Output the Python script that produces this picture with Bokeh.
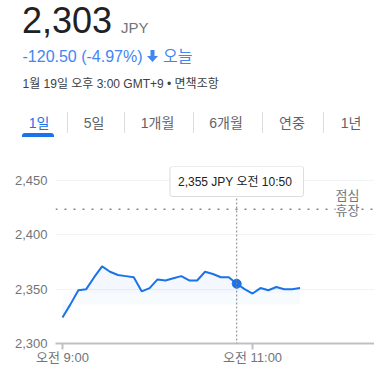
from bokeh.plotting import figure
from bokeh.models import (Div, Label, Span, FixedTicker, NumeralTickFormatter, Range1d)
from bokeh.layouts import column
from bokeh.embed import file_html
from bokeh.resources import INLINE

# ---------------- data ----------------
times = ["09:00", "09:05", "09:10", "09:15", "09:20", "09:25", "09:30", "09:35",
         "09:40", "09:45", "09:50", "09:55", "10:00", "10:05", "10:10", "10:15",
         "10:20", "10:25", "10:30", "10:35", "10:40", "10:45", "10:50", "10:55",
         "11:00", "11:05", "11:10", "11:15", "11:20", "11:25", "11:30"]
prices = [2324, 2336, 2349, 2350, 2361, 2371, 2366, 2363, 2362, 2361, 2348, 2351,
          2359, 2358, 2360, 2362, 2358, 2358, 2366, 2364, 2361, 2361, 2355, 2350,
          2346, 2351, 2349, 2352, 2350, 2350, 2351]
prev_close = 2423.5
y_ticks = [2300, 2350, 2400, 2450]
x_tick_times = ["09:00", "11:00"]
x_tick_labels = ["오전 9:00", "오전 11:00"]
hover_index = 22
hover_label = "오전 10:50"
lunch_time = "12:00"
lunch_text = ["점심", "휴장"]

price_now = "2,303"
currency = "JPY"
change_text = "-120.50 (-4.97%)"
change_period = "오늘"
date_text = "1월 19일 오후 3:00 GMT+9 • 면책조항"
tabs = ["1일", "5일", "1개월", "6개월", "연중", "1년"]

def to_min(t):
    h, m = t.split(":")
    return (int(h) - 9) * 60 + int(m)

xs = [to_min(t) for t in times]

FONT = "'Liberation Sans', 'Noto Sans CJK KR', sans-serif"
BLUE = "#1a73e8"
GREY = "#70757a"

# ---------------- header (HTML) ----------------
def span(txt, left, baseline, fs, color, extra=""):
    top = baseline - 0.8465 * fs
    return (f'<span style="position:absolute;left:{left}px;top:{top:.1f}px;'
            f'font-size:{fs}px;line-height:1;white-space:nowrap;color:{color};'
            f'font-family:{FONT};{extra}">{txt}</span>')

parts = []
parts.append(span(price_now, 22, 33, 36, "#202124"))
parts.append(span(currency, 121, 33, 15, GREY))
parts.append(span(change_text, 22.5, 62, 16, "#4285f4"))
parts.append('<svg style="position:absolute;left:147px;top:50px" width="11" height="12" '
             'viewBox="0 0 11 12"><path d="M3.5 0 H7.5 V6 H11 L5.5 12 L0 6 H3.5 Z" fill="#4285f4"/></svg>')
parts.append(span(change_period, 163, 62, 16, "#4285f4"))
parts.append(span(date_text, 22.5, 88, 12, "#3c4043"))
centers = [39, 94, 157.5, 226, 292, 351]
for i, (t, c) in enumerate(zip(tabs, centers)):
    col = BLUE if i == 0 else "#5f6368"
    parts.append(span(t, c - 20, 128, 14, col, "width:40px;text-align:center;"))
for sx in [67, 124, 193, 262, 323]:
    parts.append(f'<div style="position:absolute;left:{sx}px;top:112px;width:1px;height:21px;background:#dadce0"></div>')
parts.append(f'<div style="position:absolute;left:22px;top:133px;width:32px;height:4px;'
             f'background:{BLUE};border-radius:3px 3px 0 0"></div>')

header = Div(text='<div style="position:relative;width:374px;height:158px">'
             + "".join(parts) + '</div>', width=374, height=158, margin=0)

# ---------------- chart ----------------
y_start = y_ticks[0]
y_end = y_start + 177 / (163 / 150)
p = figure(width=374, height=218, output_backend="svg", toolbar_location=None,
           x_range=Range1d(-4.42, 197.0), y_range=Range1d(y_start, y_end),
           min_border_left=55, min_border_right=0, min_border_top=8, min_border_bottom=33,
           tools="", margin=0)
p.outline_line_color = None
p.background_fill_color = "white"
p.border_fill_color = "white"

# fill under line
p.varea(x=xs, y1=prices, y2=[2336] * len(xs), fill_color=BLUE, fill_alpha=0.03)
p.varea(x=xs, y1=prices, y2=[2346] * len(xs), fill_color=BLUE, fill_alpha=0.02)

# previous close dotted line
p.add_layout(Span(location=prev_close, dimension="width", line_color="#80868b",
                  line_width=1.5, line_dash="2 7"))

# hover crosshair
p.add_layout(Span(location=xs[hover_index], dimension="height", line_color="#80868b",
                  line_width=1, line_dash="2 2"))

p.line(xs, prices, line_color=BLUE, line_width=2)
p.scatter([xs[hover_index]], [prices[hover_index]], size=9, fill_color=BLUE, line_color=BLUE)

# axes
p.yaxis.ticker = FixedTicker(ticks=y_ticks)
p.yaxis.formatter = NumeralTickFormatter(format="0,0")
p.yaxis.axis_line_color = None
p.yaxis.major_tick_line_color = None
p.yaxis.minor_tick_line_color = None
p.yaxis.major_label_standoff = 2
p.yaxis.major_label_text_font = FONT
p.yaxis.major_label_text_font_size = "13px"
p.yaxis.major_label_text_color = GREY

p.xaxis.ticker = FixedTicker(ticks=[to_min(t) for t in x_tick_times])
p.xaxis.major_label_overrides = {to_min(t): l for t, l in zip(x_tick_times, x_tick_labels)}
p.xaxis.axis_line_color = "#bdc1c6"
p.xaxis.axis_line_width = 2
p.xaxis.major_tick_line_color = "#bdc1c6"
p.xaxis.major_tick_line_width = 2
p.xaxis.major_tick_out = 6
p.xaxis.major_tick_in = 0
p.xaxis.minor_tick_line_color = None
p.xaxis.major_label_standoff = 0
p.xaxis.major_label_text_font = FONT
p.xaxis.major_label_text_font_size = "13px"
p.xaxis.major_label_text_color = GREY

p.xgrid.grid_line_color = None
p.ygrid.grid_line_color = "#f1f3f4"
p.ygrid.ticker = FixedTicker(ticks=y_ticks)

# lunch break labels
p.add_layout(Label(x=to_min(lunch_time), y=prev_close, text=lunch_text[0], text_align="center",
                   text_baseline="bottom", y_offset=6, text_font=FONT, text_font_size="13px",
                   text_color=GREY))
p.add_layout(Label(x=to_min(lunch_time), y=prev_close, text=lunch_text[1], text_align="center",
                   text_baseline="middle", y_offset=-1, text_font=FONT, text_font_size="13px",
                   text_color=GREY, background_fill_color="white"))

# tooltip
tip = f"{prices[hover_index]:,} {currency}  {hover_label}"
p.add_layout(Label(x=xs[hover_index], y=y_end, text=tip, anchor="top_center",
                   text_align="center", text_baseline="middle",
                   padding=8, border_radius=2,
                   text_font=FONT, text_font_size="12px", text_color="#202124",
                   background_fill_color="white", border_line_color="#dadce0",
                   border_line_width=1))

layout = column(header, p, spacing=0, margin=0)
open("out.html", "w").write(file_html(layout, INLINE))
